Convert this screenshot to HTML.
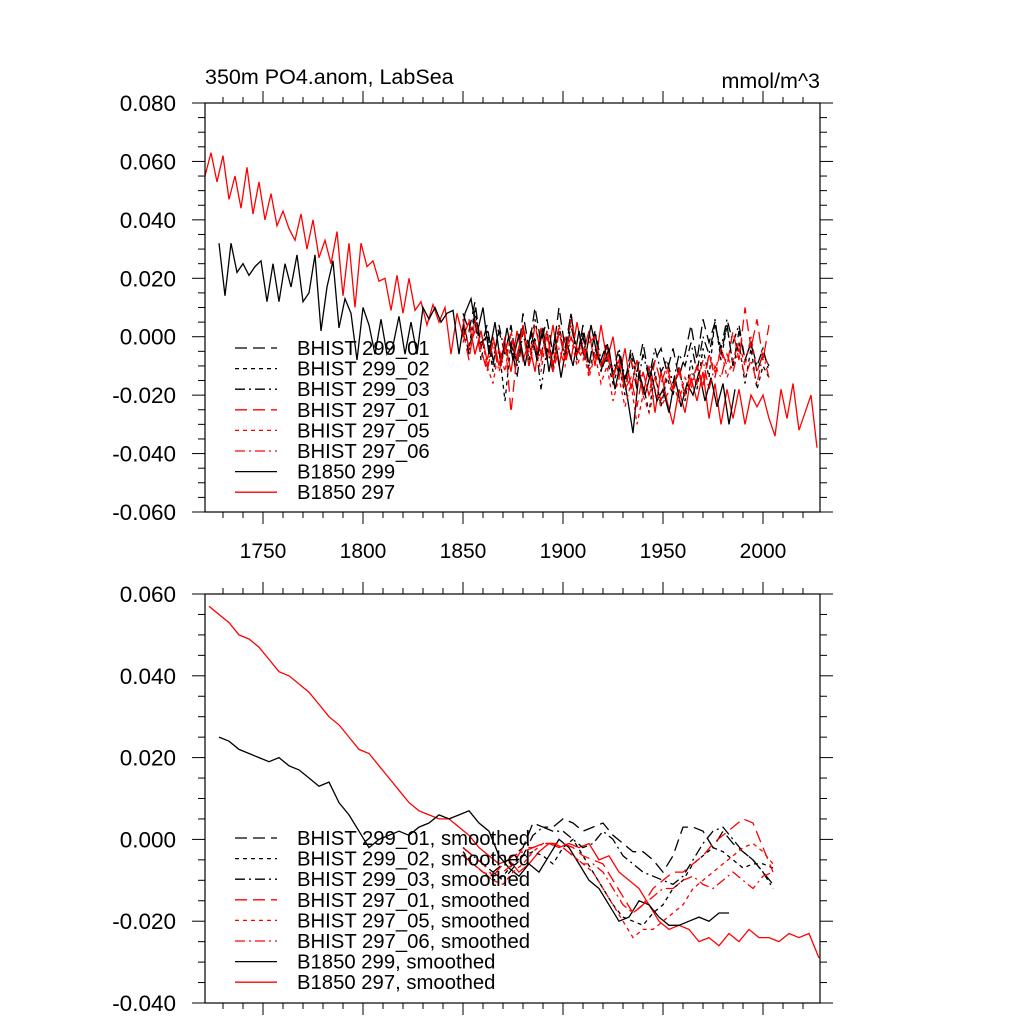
<!DOCTYPE html>
<html><head><meta charset="utf-8"><style>
html,body{margin:0;padding:0;background:#fff;width:1024px;height:1024px;overflow:hidden}
svg text{font-family:"Liberation Sans",Arial,sans-serif}
</style></head><body>
<svg id="chart" width="1024" height="1024" xmlns="http://www.w3.org/2000/svg">
<text x="205" y="84" font-size="21.5">350m PO4.anom, LabSea</text>
<text x="820" y="88" font-size="21.5" text-anchor="end">mmol/m^3</text>
<g id="top"></g>
<g id="bot"></g>
</svg>
<script>
// ---- data ----
const xTicks = [1750,1800,1850,1900,1950,2000];
const topYTicks = [0.08,0.06,0.04,0.02,0.0,-0.02,-0.04,-0.06];
const topYLabels = ["0.080","0.060","0.040","0.020","0.000","-0.020","-0.040","-0.060"];
const botYTicks = [0.06,0.04,0.02,0.0,-0.02,-0.04];
const botYLabels = ["0.060","0.040","0.020","0.000","-0.020","-0.040"];

// raw series (3-year sampling)
const b297Start = 1721;
const b297 = [.055,.063,.053,.062,.047,.055,.044,.058,.042,.053,.040,.049,.038,.043,.037,.033,.042,.030,.040,.027,.033,.025,.036,.014,.032,.010,.032,.024,.026,.019,.020,.009,.021,.008,.020,.009,.012,.004,.011,.005,.010,-.006,.008,.000,.005,-.006,.002,-.008,.000,-.010,-.002,-.012,.002,-.008,-.002,-.012,.003,-.008,.004,-.010,.000,-.008,.005,-.006,.002,-.010,.004,-.008,.000,-.014,-.004,-.018,-.008,-.020,-.010,-.026,-.012,-.022,-.030,-.018,-.026,-.014,-.022,-.012,-.028,-.016,-.030,-.018,-.028,-.018,-.030,-.020,-.024,-.020,-.028,-.034,-.018,-.028,-.016,-.032,-.026,-.020,-.038];
const b299Start = 1728;
const b299 = [.032,.014,.032,.022,.025,.021,.024,.026,.012,.025,.012,.025,.017,.028,.012,.015,.028,.002,.017,.026,.003,.013,.008,-.008,.010,.004,-.006,.006,-.006,-.003,.007,-.006,.005,-.006,.010,.006,.010,.005,.008,.009,-.006,.008,.013,.001,.010,-.006,.005,-.010,.003,-.008,.001,-.010,.002,-.008,.003,-.012,.000,-.014,-.002,-.010,.002,-.008,.004,-.006,-.010,-.004,-.018,-.008,-.020,-.033,-.012,-.020,-.012,-.022,-.018,-.026,-.014,-.024,-.016,-.020,-.012,-.022,-.014,-.024,-.016,-.030,-.018];
const histStart = 1850;
const h299_01 = [.008,.002,.012,-.004,.004,-.008,.002,-.006,.004,-.010,.008,-.004,.010,-.002,.006,-.006,.010,-.004,.008,-.008,.004,-.010,.002,-.012,-.002,-.014,-.006,-.016,-.004,-.012,-.002,-.014,-.008,-.004,-.012,-.004,-.014,-.006,.004,-.008,.006,-.002,.005,-.006,.004,-.010,.002,-.008,-.002,-.012,-.006,-.010];
const h299_02 = [.006,-.004,.010,-.008,.002,-.012,-.004,-.022,-.002,-.010,.004,-.008,.006,-.006,.002,-.010,.004,-.008,.008,-.006,.002,-.012,-.004,-.010,-.008,-.016,-.010,-.020,-.006,-.014,-.016,-.026,-.012,-.024,-.014,-.020,-.010,-.022,-.008,-.018,-.004,-.014,.006,-.008,.004,-.010,-.002,-.016,-.004,-.018,-.010,-.014];
const h299_03 = [.004,-.006,.008,-.002,.000,-.010,.004,-.006,-.002,-.014,.002,-.010,.000,-.018,-.004,-.012,.002,-.008,.004,-.006,.000,-.010,.002,-.008,-.002,-.012,-.004,-.014,-.008,-.018,-.006,-.014,-.004,-.012,-.008,-.016,-.006,-.010,-.002,-.012,.000,-.006,.004,-.004,.006,-.002,.004,-.008,-.002,-.010,-.004,-.012];
const h297_01 = [.002,-.008,.006,-.004,-.012,-.002,-.010,.000,-.026,-.006,.002,-.010,.004,-.006,.000,-.012,.002,-.008,.006,-.004,-.008,-.002,.000,-.010,-.006,-.014,-.008,-.018,-.014,-.024,-.012,-.020,-.008,-.016,-.010,-.018,-.012,-.020,-.016,-.010,-.018,-.006,-.014,-.004,-.010,.002,-.008,.010,-.004,.006,-.008,.004];
const h297_05 = [-.002,.006,-.006,.002,-.010,-.016,-.004,-.012,.002,-.008,.004,-.006,-.002,-.012,.002,-.010,.004,-.006,.000,-.010,-.004,-.014,-.006,-.016,-.010,-.022,-.014,-.024,-.016,-.030,-.020,-.026,-.018,-.024,-.020,-.016,-.022,-.014,-.018,-.010,-.016,-.006,-.012,-.004,-.014,-.008,-.002,-.010,.000,-.012,-.006,-.010];
const h297_06 = [.006,-.004,.002,-.006,-.010,-.002,-.012,-.004,.000,-.008,.004,-.010,-.002,-.008,.002,-.012,-.004,-.010,.000,-.006,-.002,-.012,-.006,-.010,-.004,-.012,-.010,-.018,-.008,-.016,-.012,-.020,-.014,-.022,-.012,-.018,-.010,-.020,-.012,-.016,-.008,-.018,-.010,-.014,-.006,-.012,-.004,-.014,-.008,-.016,-.006,-.014];

// smoothed series (5-year sampling)
const s297Start = 1723;
const s297 = [.057,.055,.053,.050,.049,.047,.044,.041,.040,.038,.036,.033,.030,.028,.025,.022,.021,.018,.015,.012,.009,.007,.006,.005,.005,.003,.001,-.002,-.004,-.006,-.005,-.008,-.006,-.003,-.001,-.002,-.001,-.002,-.001,-.005,-.004,-.008,-.010,-.012,-.016,-.020,-.022,-.021,-.022,-.025,-.024,-.026,-.023,-.025,-.022,-.024,-.024,-.025,-.023,-.024,-.023,-.029];
const s299Start = 1728;
const s299 = [.025,.024,.022,.021,.020,.019,.020,.018,.017,.015,.013,.014,.009,.006,.002,-.002,.000,.001,.002,.001,.003,.004,.006,.005,.006,.007,.004,.002,-.004,-.007,-.009,-.006,-.008,-.004,.000,-.002,-.006,-.010,-.012,-.016,-.020,-.019,-.015,-.016,-.019,-.021,-.021,-.020,-.019,-.020,-.018,-.018];
const sHistStart = 1850;
const s299_01 = [-.002,-.004,-.006,-.008,-.006,-.004,-.002,.004,.003,.003,.005,.004,.002,.003,.004,.001,-.001,-.003,-.003,-.005,-.008,-.004,.003,.003,.002,-.002,.002,-.001,-.003,-.005,-.008,-.011];
const s299_02 = [-.003,-.006,-.008,-.010,-.009,-.006,-.004,-.003,-.004,-.006,-.002,.000,-.004,-.008,-.012,-.016,-.019,-.020,-.021,-.018,-.016,-.012,-.010,-.006,-.004,-.002,-.003,-.005,-.007,-.006,-.006,-.007];
const s299_03 = [-.002,-.004,-.006,-.008,-.010,-.007,-.004,.001,.003,.002,.002,.000,-.002,-.001,.002,.000,-.004,-.006,-.008,-.009,-.010,-.011,-.009,-.005,-.001,.002,.003,.000,-.003,-.005,-.008,-.012];
const s297_01 = [-.002,-.004,-.006,-.009,-.008,-.006,-.002,-.002,-.001,-.001,-.001,-.002,-.004,-.005,-.006,-.010,-.014,-.018,-.016,-.012,-.010,-.008,-.008,-.006,-.004,-.001,.001,.003,.005,.004,-.002,-.008];
const s297_05 = [-.004,-.006,-.008,-.010,-.011,-.008,-.006,-.003,-.001,-.001,-.002,-.004,-.006,-.008,-.012,-.016,-.020,-.024,-.022,-.022,-.020,-.018,-.016,-.012,-.010,-.008,-.006,-.004,-.002,-.001,-.003,-.006];
const s297_06 = [-.004,-.006,-.008,-.009,-.006,-.004,-.003,-.002,-.001,-.001,-.002,-.004,-.006,-.006,-.008,-.012,-.016,-.018,-.016,-.014,-.012,-.012,-.010,-.009,-.011,-.012,-.010,-.008,-.010,-.012,-.009,-.008];

const topLegend = ["BHIST 299_01","BHIST 299_02","BHIST 299_03","BHIST 297_01","BHIST 297_05","BHIST 297_06","B1850 299","B1850 297"];
const botLegend = ["BHIST 299_01, smoothed","BHIST 299_02, smoothed","BHIST 299_03, smoothed","BHIST 297_01, smoothed","BHIST 297_05, smoothed","BHIST 297_06, smoothed","B1850 299, smoothed","B1850 297, smoothed"];

// ---- drawing ----
const NS = "http://www.w3.org/2000/svg";
const L = 205, R = 820, X0 = 1721, X1 = 2028.5;
const xs = yr => L + (yr - X0) / (X1 - X0) * (R - L);
const styles = [
  {c:"#000",d:"12 6"},{c:"#000",d:"4 4"},{c:"#000",d:"10 4 2 4"},
  {c:"#f00",d:"12 6"},{c:"#f00",d:"4 4"},{c:"#f00",d:"10 4 2 4"},
  {c:"#000",d:""},{c:"#f00",d:""}
];
function mk(tag, attrs, parent){ const e=document.createElementNS(NS,tag); for(const k in attrs) e.setAttribute(k,attrs[k]); parent.appendChild(e); return e; }

function panel(g, T, B, vmax, vmin, yTicks, yLabels, showX, series, legend, legTop, pname){
  const ys = v => T + (vmax - v) / (vmax - vmin) * (B - T);
  const clip = mk("clipPath",{id:"clip-"+pname},g);
  mk("rect",{x:L,y:T,width:R-L,height:B-T},clip);
  series.forEach((s,i)=>{
    const pts = s.vals.map((v,k)=>xs(s.start+k*s.step).toFixed(1)+","+ys(v).toFixed(1)).join(" ");
    const pl = mk("polyline",{points:pts,fill:"none",stroke:styles[s.st].c,"stroke-width":1.3,"stroke-dasharray":styles[s.st].d,"clip-path":"url(#clip-"+pname+")"},g);
    
    
  });
  const fr = mk("rect",{x:L,y:T,width:R-L,height:B-T,fill:"none",stroke:"#000","stroke-width":1.2},g);
  
  
  for(let yr=1730; yr<=2020; yr+=10){
    const x=xs(yr), maj = yr%50===0, len = maj?12:6;
    mk("line",{x1:x,x2:x,y1:B,y2:B+len,stroke:"#000","stroke-width":1},g);
    mk("line",{x1:x,x2:x,y1:T,y2:T-len,stroke:"#000","stroke-width":1},g);
  }
  if(showX){
    xTicks.forEach(t=>{
      const tx = mk("text",{x:xs(t),y:B+46,"font-size":21,"text-anchor":"middle"},g);
      tx.textContent = t;
      
      
    });
  }
  const step = (yTicks[0]-yTicks[1])/4;
  for(let v=vmax; v>=vmin-1e-9; v-=step){
    const y=ys(v), k=Math.round((vmax-v)/step), maj=k%4===0, len=maj?13:7;
    mk("line",{x1:L,x2:L-len,y1:y,y2:y,stroke:"#000","stroke-width":1},g);
    mk("line",{x1:R,x2:R+len,y1:y,y2:y,stroke:"#000","stroke-width":1},g);
  }
  yTicks.forEach((t,i)=>{
    const tx = mk("text",{x:176,y:ys(t)+8,"font-size":22.5,"text-anchor":"end"},g);
    tx.textContent = yLabels[i];
    
    
  });
  legend.forEach((lab,i)=>{
    const y = legTop + i*20.6;
    const ln = mk("line",{x1:235,x2:277,y1:y,y2:y,stroke:styles[i].c,"stroke-width":1.3,"stroke-dasharray":styles[i].d},g);
    
    
    const tx = mk("text",{x:297,y:y+7,"font-size":20.3},g);
    tx.textContent = lab;
    
    
  });
}

panel(document.getElementById("top"),103,512,0.08,-0.06,topYTicks,topYLabels,true,[
  {name:"b1850-297",vals:b297,start:b297Start,step:3,st:7},
  {name:"b1850-299",vals:b299,start:b299Start,step:3,st:6},
  {name:"bhist-299-01",vals:h299_01,start:histStart,step:3,st:0},
  {name:"bhist-299-02",vals:h299_02,start:histStart,step:3,st:1},
  {name:"bhist-299-03",vals:h299_03,start:histStart,step:3,st:2},
  {name:"bhist-297-01",vals:h297_01,start:histStart,step:3,st:3},
  {name:"bhist-297-05",vals:h297_05,start:histStart,step:3,st:4},
  {name:"bhist-297-06",vals:h297_06,start:histStart,step:3,st:5}
],topLegend,348,"top");

panel(document.getElementById("bot"),594,1003,0.06,-0.04,botYTicks,botYLabels,false,[
  {name:"b1850-297",vals:s297,start:s297Start,step:5,st:7},
  {name:"b1850-299",vals:s299,start:s299Start,step:5,st:6},
  {name:"bhist-299-01",vals:s299_01,start:sHistStart,step:5,st:0},
  {name:"bhist-299-02",vals:s299_02,start:sHistStart,step:5,st:1},
  {name:"bhist-299-03",vals:s299_03,start:sHistStart,step:5,st:2},
  {name:"bhist-297-01",vals:s297_01,start:sHistStart,step:5,st:3},
  {name:"bhist-297-05",vals:s297_05,start:sHistStart,step:5,st:4},
  {name:"bhist-297-06",vals:s297_06,start:sHistStart,step:5,st:5}
],botLegend,838,"bottom");
</script>
</body></html>
